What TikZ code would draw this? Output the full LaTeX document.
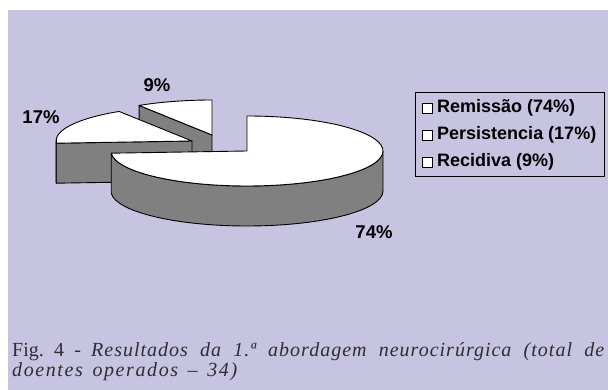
\documentclass[tikz,border=0pt]{standalone}
\usepackage{fontspec}
\setmainfont{Liberation Serif}
\newfontfamily\labfont{Liberation Sans}
\newfontfamily\capfont{Liberation Serif}
\newfontfamily\capone{Liberation Serif}[LetterSpace=5]
\newfontfamily\captwo{Liberation Serif}[LetterSpace=8]
\usetikzlibrary{calc}
\definecolor{bg}{RGB}{199,196,226}
\definecolor{wallgray}{RGB}{128,128,128}
\definecolor{captext}{RGB}{45,45,50}
\tikzset{
  topface/.style={fill=white,draw=black,line width=0.9pt,line join=round},
  wallface/.style={fill=wallgray,draw=black,line width=0.9pt,line join=round},
  pctlabel/.style={font=\labfont\bfseries\fontsize{18.5}{20}\selectfont,inner sep=0pt},
  legtext/.style={font=\labfont\bfseries\fontsize{18}{20}\selectfont,inner sep=0pt,anchor=west},
  legsq/.style={fill=white,draw=black,line width=0.7pt,minimum size=10pt,inner sep=0pt},
  captxt/.style={font=\capfont\fontsize{20}{22}\selectfont\frenchspacing,text=captext,inner sep=0pt,anchor=base west}
}
\begin{document}
\begin{tikzpicture}[x=1pt,y=1pt]
\useasboundingbox (0,0) rectangle (608,390);
\fill[white] (0,0) rectangle (608,390);
\fill[bg] (8,0) rectangle (608,380);
% centres of the three exploded slices
\coordinate (N) at (212,255);
\coordinate (S) at (192,249);
\coordinate (B) at (247,239);
% 9% slice (back)
\draw[wallface] (N) -- ($(N)+(122.4:136pt and 35pt)$) -- ++(0,-40) -- ($(N)+(0,-40)$) -- cycle;
\draw[topface] (N) -- ($(N)+(90:136pt and 35pt)$) arc[start angle=90,end angle=122.4,x radius=136pt,y radius=35pt] -- cycle;
% 17% slice
\draw[wallface] (S) -- ($(S)+(183.6:136pt and 35pt)$) -- ++(0,-40) -- ($(S)+(0,-40)$) -- cycle;
\draw[wallface] ($(S)+(180:136pt and 35pt)$) arc[start angle=180,end angle=183.6,x radius=136pt,y radius=35pt] -- ++(0,-40) arc[start angle=183.6,end angle=180,x radius=136pt,y radius=35pt] -- cycle;
\draw[topface] (S) -- ($(S)+(183.6:136pt and 35pt)$) arc[start angle=183.6,end angle=122.4,x radius=136pt,y radius=35pt] -- cycle;
% 74% slice (front)
\draw[wallface] ($(B)+(183.6:136pt and 35pt)$) arc[start angle=183.6,end angle=360,x radius=136pt,y radius=35pt] -- ++(0,-40) arc[start angle=360,end angle=183.6,x radius=136pt,y radius=35pt] -- cycle;
\draw[topface] (B) -- ($(B)+(183.6:136pt and 35pt)$) arc[start angle=183.6,end angle=450,x radius=136pt,y radius=35pt] -- cycle;
% percentage labels
\node[pctlabel] (l9) at (157,305) {9\%};
\node[pctlabel] (l17) at (41,273) {17\%};
\node[pctlabel] (l74) at (374,158) {74\%};
% legend
\draw[line width=0.7pt] (415,298) rectangle (604,214);
\node[legsq] (s1) at (427,282) {};
\node[legsq] (s2) at (427,255) {};
\node[legsq] (s3) at (427,228) {};
\node[legtext] (t1) at (437,282) {Remissão (74\%)};
\node[legtext] (t2) at (437,255) {Persistencia (17\%)};
\node[legtext] (t3) at (437,228) {Recidiva (9\%)};
% caption
\node[captxt] (c1) at (12,33) {\makebox[592pt][s]{Fig.\ 4 - {\capone\itshape Resultados da 1.ª abordagem neurocirúrgica (total de}}};
\node[captxt] (c2) at (12,13) {\makebox[225pt][s]{\captwo\itshape doentes operados – 34)}};
\end{tikzpicture}
\end{document}
